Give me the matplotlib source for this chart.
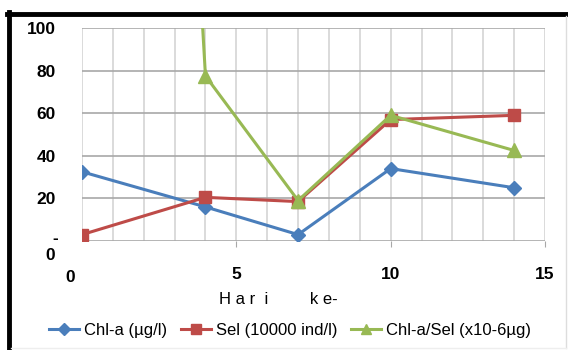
import matplotlib
matplotlib.use("Agg")
import matplotlib.pyplot as plt
from matplotlib.lines import Line2D

plt.rcParams['font.family'] = ['Liberation Sans', 'DejaVu Sans']

# Data
days = [0, 4, 7, 10, 14]
chla = [32.5, 16, 3, 34, 25]
sel = [3, 20.5, 18.5, 57, 59]
ratio = [1080, 77.5, 19, 59, 42.5]
labels = ["Chl-a (µg/l)", "Sel (10000 ind/l)", "Chl-a/Sel (x10-6µg)"]
yticks = [20, 40, 60, 80, 100]
xticks = [5, 10, 15]

W, H = 568, 350
fig = plt.figure(figsize=(W / 100, H / 100), dpi=100)
fig.patch.set_facecolor('white')

def fx(px):
    return px / W

def fy(py):
    return 1 - py / H

ax = fig.add_axes([fx(82), fy(241), fx(545) - fx(82), fy(28) - fy(241)])
ax.set_xlim(0, 15)
ax.set_ylim(0, 100)

# grid
for x in range(0, 16):
    ax.axvline(x, color='#d4d4d4', lw=1.2, zorder=0)
for y in [0, 20, 40, 60, 80, 100]:
    ax.axhline(y, color='#a8a8a8', lw=1.2, zorder=0.5)

for s in ax.spines.values():
    s.set_visible(False)

ax.plot(days, chla, color='#4a7ebb', lw=2.2, marker='D', ms=7.5, mec='#4a7ebb', label=labels[0], zorder=3)
ax.plot(days, sel, color='#be4b48', lw=2.2, marker='s', ms=9, mec='#be4b48', label=labels[1], zorder=3)
ax.plot(days, ratio, color='#98b954', lw=2.2, marker='^', ms=9.5, mec='#98b954', label=labels[2], zorder=4)

TF = 12.5
ax.set_yticks(yticks)
ax.set_yticklabels([str(v) for v in yticks], fontsize=TF, fontweight='bold')
ax.tick_params(axis='y', length=0, pad=19)
ax.set_xticks(xticks)
ax.set_xticklabels([str(v) for v in xticks], fontsize=TF, fontweight='bold')
ax.tick_params(axis='x', length=4, color='#a8a8a8', pad=14.5)

# extra zero labels
fig.text(fx(58), fy(239), '-', fontsize=TF, fontweight='bold', ha='right', va='center')
fig.text(fx(50), fy(255), '0', fontsize=TF, fontweight='bold', ha='center', va='center')
fig.text(fx(70), fy(277), '0', fontsize=TF, fontweight='bold', ha='center', va='center')

fig.text(fx(278), fy(299), 'H a r  i         k e-', fontsize=12, ha='center', va='center')

leg = fig.legend(loc='center', bbox_to_anchor=(fx(290), fy(330)), ncol=3, frameon=False,
                 fontsize=12, handlelength=1.8, handletextpad=0.3, columnspacing=0.8,
                 markerscale=0.75)

# border
fig.add_artist(Line2D([fx(9), fx(9)], [fy(12), fy(350)], color='black', lw=3.5))
fig.add_artist(Line2D([fx(7), fx(568)], [fy(14), fy(14)], color='black', lw=3.5))
fig.add_artist(Line2D([fx(566), fx(566)], [fy(16), fy(348)], color='#dddddd', lw=1))
fig.add_artist(Line2D([fx(11), fx(566)], [fy(348), fy(348)], color='#eeeeee', lw=1))

fig.savefig('out.png', dpi=100)
